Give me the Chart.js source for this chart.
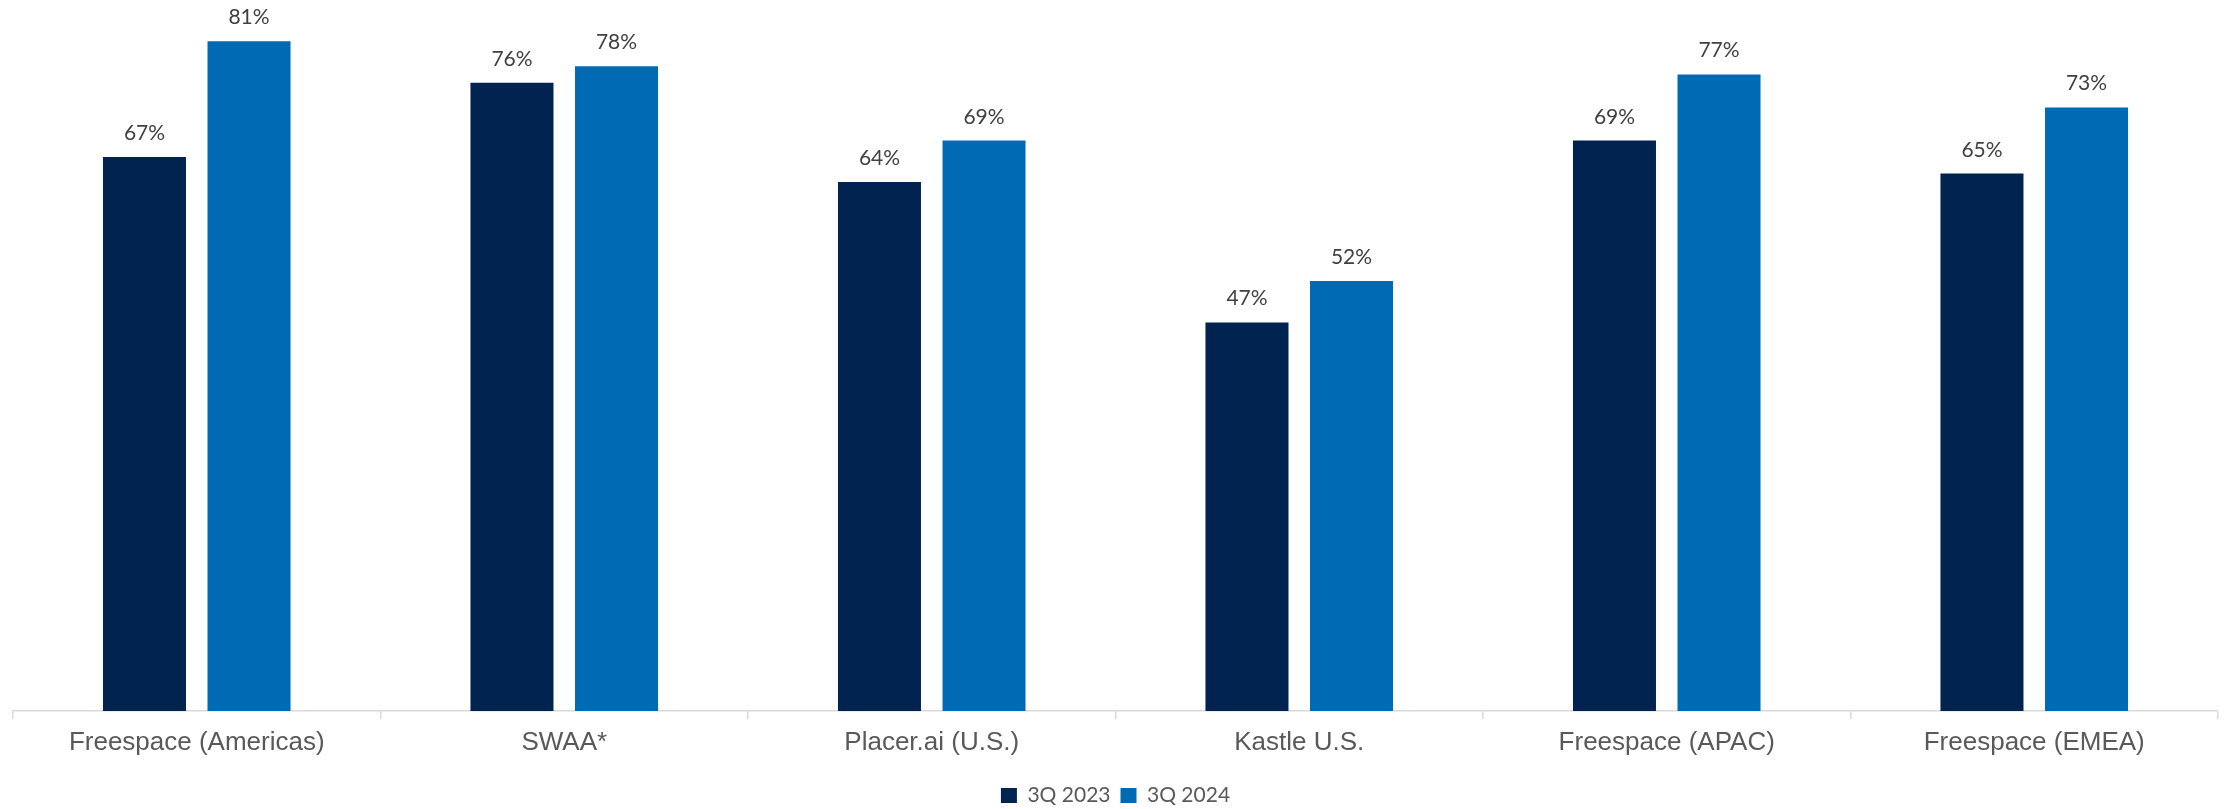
<!DOCTYPE html>
<html>
<head>
<meta charset="utf-8">
<script src="https://cdn.jsdelivr.net/npm/chart.js@4/dist/chart.umd.min.js"></script>
<style>
  html, body { margin: 0; padding: 0; background: #fff; }
  #wrap { width: 2232px; height: 809px; position: relative; }
</style>
</head>
<body>
<div id="wrap"><canvas id="occ"></canvas></div>
<script>
const categories = ['Freespace (Americas)', 'SWAA*', 'Placer.ai (U.S.)', 'Kastle U.S.', 'Freespace (APAC)', 'Freespace (EMEA)'];
const seriesNames = ['3Q 2023', '3Q 2024'];
const q3_2023 = [67, 76, 64, 47, 69, 65];
const q3_2024 = [81, 78, 69, 52, 77, 73];

// labels above each bar, drawn at the bar's own position
const barLabels = {
  id: 'barLabels',
  afterDatasetsDraw(chart) {
    const ctx = chart.ctx;
    ctx.save();
    ctx.font = '21px Lato';
    ctx.fillStyle = '#404040';
    ctx.textAlign = 'center';
    ctx.textBaseline = 'alphabetic';
    chart.data.datasets.forEach((ds, i) => {
      chart.getDatasetMeta(i).data.forEach((bar, j) => {
        ctx.fillText(ds.data[j] + '%', bar.x, bar.y - 17);
      });
    });
    ctx.restore();
  }
};

// fixed legend height so the axis sits where the original has it
const legendHeight = {
  id: 'legendHeight',
  afterInit(chart) {
    const lg = chart.legend;
    if (!lg) return;
    const fit = lg.fit.bind(lg);
    lg.fit = function () { fit(); this.height = 34; };
  }
};

new Chart(document.getElementById('occ').getContext('2d'), {
  type: 'bar',
  data: {
    labels: categories,
    datasets: [
      { label: seriesNames[0], data: q3_2023, backgroundColor: '#00234F' },
      { label: seriesNames[1], data: q3_2024, backgroundColor: '#006AB5' }
    ]
  },
  options: {
    responsive: true,
    maintainAspectRatio: false,
    animation: false,
    devicePixelRatio: 1,
    categoryPercentage: 0.569,
    barPercentage: 0.794,
    layout: { padding: { left: 13, right: 14, top: 0, bottom: 0 } },
    plugins: {
      legend: {
        position: 'bottom',
        labels: {
          font: { family: 'Lato', size: 21 },
          color: '#595959',
          boxWidth: 16,
          boxHeight: 15,
          padding: 10
        }
      },
      tooltip: { enabled: false }
    },
    scales: {
      x: {
        grid: { offset: true, drawOnChartArea: false, drawTicks: true, tickLength: 8, color: '#d9d9d9', lineWidth: 1.5 },
        border: { display: true, color: '#d9d9d9', width: 1.5 },
        ticks: { font: { family: 'Liberation Sans', size: 26 }, color: '#595959', padding: 8, maxRotation: 0 },
        afterFit(scale) { scale.height = 64; }
      },
      y: {
        display: false,
        min: 0,
        max: 86
      }
    }
  },
  plugins: [barLabels, legendHeight]
});
</script>
</body>
</html>
